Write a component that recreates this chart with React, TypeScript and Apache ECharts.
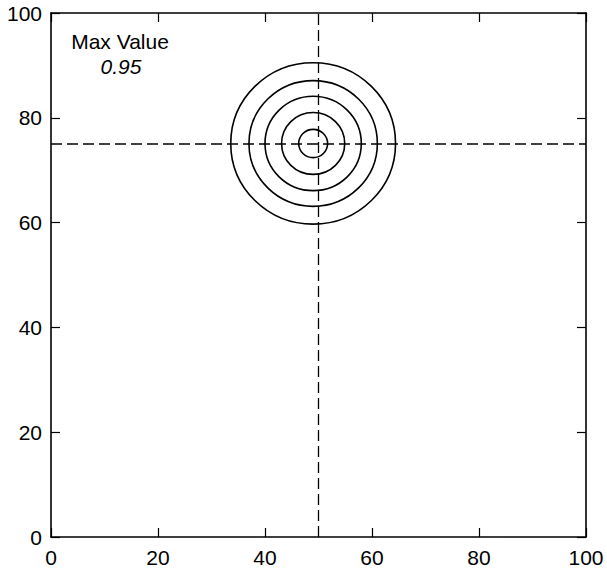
import React, { useEffect, useRef } from "react";
import * as echarts from "echarts";

const xTicks = [0, 20, 40, 60, 80, 100];
const yTicks = [0, 20, 40, 60, 80, 100];
const sourceX = 50;
const sourceY = 75;
const contourCenter = [49, 75.1];
const contourRadii = [15.4, 12.0, 9.0, 5.9, 2.7];
const maxLabel = "Max Value";
const maxValue = "0.95";

const FONT = "'Liberation Sans', Arial, Helvetica, sans-serif";

export default function App() {
  const ref = useRef<HTMLDivElement>(null);
  useEffect(() => {
    document.body.style.margin = "0";
    const chart = echarts.init(ref.current!, null, { renderer: "svg" });
    const axisCommon = {
      type: "value",
      min: xTicks[0],
      max: xTicks[xTicks.length - 1],
      interval: 20,
      axisLine: { show: true, onZero: false, lineStyle: { color: "#000", width: 1.6 } },
      axisTick: { show: true, inside: true, length: 9, lineStyle: { color: "#000", width: 1.2 } },
      splitLine: { show: false },
    };
    const labelStyle = { color: "#000", fontSize: 21, fontFamily: FONT };
    const contourData = contourRadii.map((r) => [contourCenter[0], contourCenter[1], r]);
    chart.setOption({
      animation: false,
      backgroundColor: "#fff",
      grid: { left: 51, top: 13, width: 535, height: 524, containLabel: false },
      xAxis: [
        { ...axisCommon, position: "bottom", axisLabel: { ...labelStyle, margin: 10 } },
        { ...axisCommon, position: "top", axisLabel: { show: false } },
      ],
      yAxis: [
        { ...axisCommon, min: yTicks[0], max: yTicks[yTicks.length - 1], position: "left", axisLabel: { ...labelStyle, margin: 9 } },
        { ...axisCommon, min: yTicks[0], max: yTicks[yTicks.length - 1], position: "right", axisLabel: { show: false } },
      ],
      graphic: [
        {
          type: "text",
          x: 120,
          y: 41,
          style: { text: maxLabel, fill: "#000", font: `21px ${FONT}`, textAlign: "center", textVerticalAlign: "middle" },
        },
        {
          type: "text",
          x: 121,
          y: 66,
          style: { text: maxValue, fill: "#000", font: `italic 21px ${FONT}`, textAlign: "center", textVerticalAlign: "middle" },
        },
      ],
      series: [
        {
          type: "line",
          data: [[sourceX, 0], [sourceX, 100]],
          symbol: "none",
          lineStyle: { color: "#000", width: 1.3, type: [11, 5] },
        },
        {
          type: "line",
          data: [[0, sourceY], [100, sourceY]],
          symbol: "none",
          lineStyle: { color: "#000", width: 1.3, type: [11, 5] },
        },
        {
          type: "custom",
          data: contourData,
          renderItem: (params: any, api: any) => {
            const c = api.coord([api.value(0), api.value(1)]);
            const s = api.size([api.value(2), api.value(2)]);
            return {
              type: "ellipse",
              shape: { cx: c[0], cy: c[1], rx: s[0], ry: s[1] },
              style: { fill: "none", stroke: "#000", lineWidth: 1.6 },
            };
          },
        },
      ],
    });
    return () => chart.dispose();
  }, []);
  return <div ref={ref} style={{ width: 607, height: 572 }} />;
}
